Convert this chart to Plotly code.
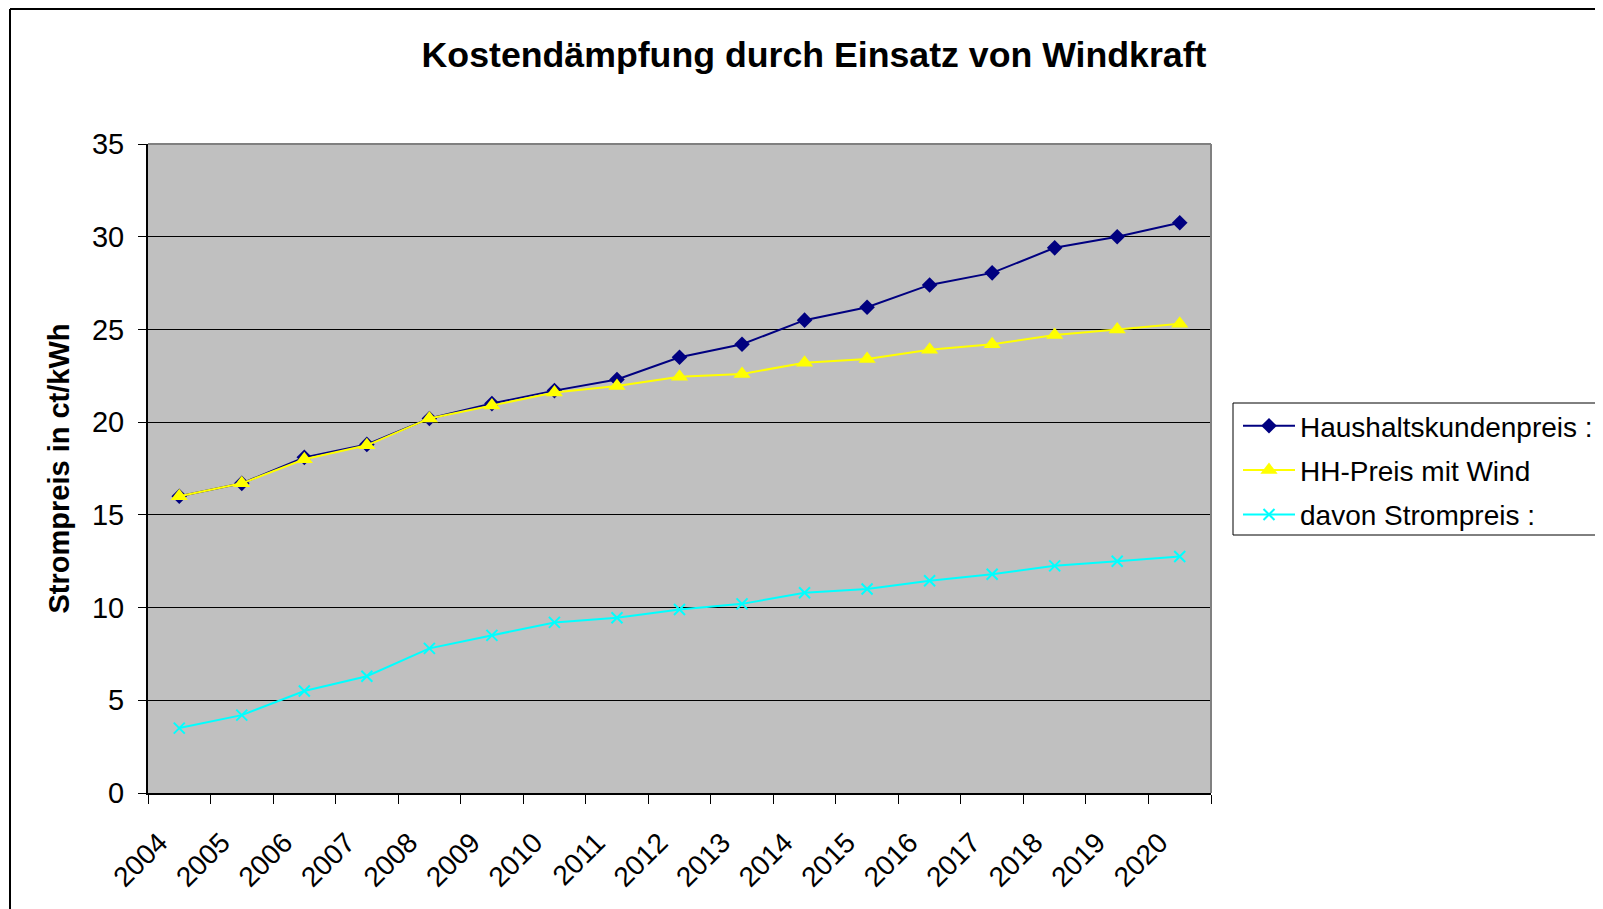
import plotly.graph_objects as go

years = [str(y) for y in range(2004, 2021)]
haushalt = [16.0, 16.7, 18.1, 18.8, 20.2, 21.0, 21.7, 22.3, 23.5, 24.2, 25.5, 26.2, 27.4, 28.05, 29.4, 30.0, 30.75]
hh_wind = [16.0, 16.7, 18.0, 18.75, 20.2, 20.9, 21.6, 21.95, 22.45, 22.6, 23.2, 23.4, 23.9, 24.2, 24.7, 25.0, 25.3]
strompreis = [3.5, 4.2, 5.5, 6.3, 7.8, 8.5, 9.2, 9.45, 9.9, 10.2, 10.8, 11.0, 11.45, 11.8, 12.25, 12.5, 12.75]

names = ["Haushaltskundenpreis :", "HH-Preis mit Wind", "davon Strompreis :"]
title = "Kostendämpfung durch Einsatz von Windkraft"
ytitle = "Strompreis in ct/kWh"

FONT = "Arial, Liberation Sans, sans-serif"

# figure coordinates (page body has an 8px margin)
W, H = 1603, 909
L, R, T, B = 140, 1203, 136, 785

fig = go.Figure()
fig.add_trace(go.Scatter(
    x=years, y=haushalt, name=names[0], mode="lines+markers", legendgroup="a",
    line=dict(color="#000080", width=2),
    marker=dict(symbol="diamond", size=12, color="#000080"),
))
fig.add_trace(go.Scatter(
    x=years, y=hh_wind, name=names[1], mode="lines+markers", legendgroup="b",
    line=dict(color="#FFFF00", width=2),
    marker=dict(symbol="triangle-up", size=15, color="#FFFF00"),
))
fig.add_trace(go.Scatter(
    x=years, y=strompreis, name=names[2], mode="lines+markers", legendgroup="c",
    line=dict(color="#00FFFF", width=2),
    marker=dict(symbol="x-thin", size=11, color="#00FFFF",
                line=dict(color="#00FFFF", width=2)),
))

def px_x(px):
    return (px - L) / (R - L)

def px_y(py):
    return (B - py) / (B - T)

LG_L, LG_T, LG_B = 1225, 395, 527

fig.update_layout(
    width=W, height=H,
    margin=dict(l=L, r=W - R, t=T, b=H - B, autoexpand=False),
    paper_bgcolor="white",
    plot_bgcolor="#C0C0C0",
    font=dict(family=FONT, size=28, color="black"),
    title=dict(text="<b>" + title + "</b>", x=806 / W, xref="container", xanchor="center",
               y=1 - 47 / H, yref="container", yanchor="middle",
               font=dict(family=FONT, size=35.7, color="black")),
    showlegend=True,
    legend=dict(x=px_x(1230), y=px_y(393), xanchor="left", yanchor="top",
                bgcolor="rgba(0,0,0,0)", borderwidth=0,
                font=dict(family=FONT, size=28, color="black"),
                itemwidth=52, tracegroupgap=5),
    xaxis=dict(type="category", tickson="boundaries", ticks="outside", ticklen=9,
               tickcolor="black", tickwidth=1, tickangle=-45,
               ticklabelstandoff=20, ticklabelshift=-20,
               showline=True, linecolor="black", linewidth=2,
               showgrid=False, tickfont=dict(family=FONT, size=28, color="black"),
               range=[-0.5, 16.5]),
    yaxis=dict(range=[0, 35], dtick=5, ticks="outside", ticklen=8,
               tickcolor="black", tickwidth=1, ticklabelstandoff=8,
               showline=True, linecolor="black", linewidth=2,
               showgrid=True, gridcolor="black", gridwidth=1, zeroline=False,
               tickfont=dict(family=FONT, size=29, color="black")),
    annotations=[dict(text="<b>" + ytitle + "</b>", textangle=-90,
                      xref="paper", yref="paper", x=px_x(50), y=0.5,
                      xanchor="center", yanchor="middle", showarrow=False,
                      font=dict(family=FONT, size=29, color="black"))],
    shapes=[
        # plot area border (top and right, gray)
        dict(type="line", xref="paper", yref="paper", x0=0, x1=1, y0=1, y1=1,
             line=dict(color="#808080", width=2)),
        dict(type="line", xref="paper", yref="paper", x0=1, x1=1, y0=0, y1=1,
             line=dict(color="#808080", width=2)),
        # outer chart frame
        dict(type="line", xref="paper", yref="paper", x0=px_x(2), x1=px_x(1700),
             y0=px_y(1), y1=px_y(1), line=dict(color="black", width=2)),
        dict(type="line", xref="paper", yref="paper", x0=px_x(2), x1=px_x(2),
             y0=px_y(1), y1=px_y(1000), line=dict(color="black", width=2)),
        # legend frame (runs off the right edge of the page)
        dict(type="line", xref="paper", yref="paper", x0=px_x(LG_L), x1=px_x(1700),
             y0=px_y(LG_T), y1=px_y(LG_T), line=dict(color="black", width=1)),
        dict(type="line", xref="paper", yref="paper", x0=px_x(LG_L), x1=px_x(1700),
             y0=px_y(LG_B), y1=px_y(LG_B), line=dict(color="black", width=1)),
        dict(type="line", xref="paper", yref="paper", x0=px_x(LG_L), x1=px_x(LG_L),
             y0=px_y(LG_T), y1=px_y(LG_B), line=dict(color="black", width=1)),
    ],
)

fig.write_html("out.html")
